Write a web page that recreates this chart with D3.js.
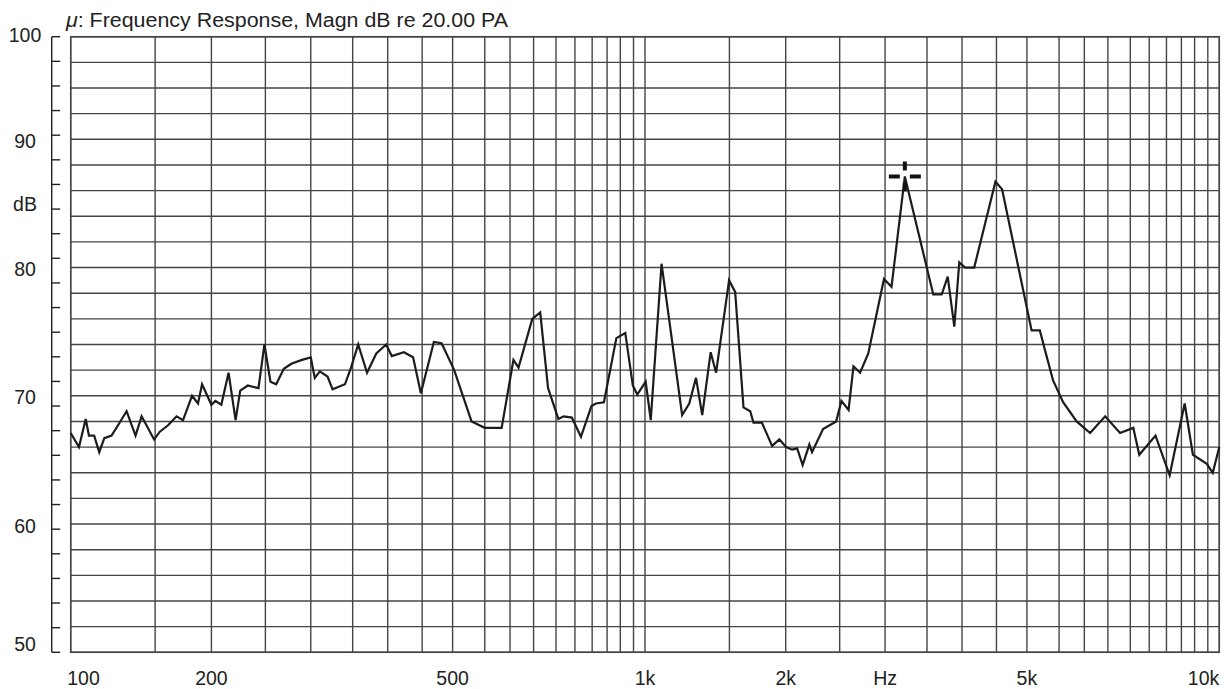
<!DOCTYPE html>
<html>
<head>
<meta charset="utf-8">
<script src="https://cdn.jsdelivr.net/npm/d3@7"></script>
<style>
  html, body { margin: 0; padding: 0; background: #fff; }
  svg { display: block; font-family: "Liberation Sans", Arial, Helvetica, sans-serif; }
</style>
</head>
<body>
<svg id="chart" width="1231" height="689"></svg>
<script>
// ---------------- data ----------------
const titleText = "Frequency Response, Magn dB re 20.00 PA";
const titleSymbol = "\u03BC";

const freqHz = [100,104.9,108.9,110.8,113.9,116.9,119.9,124.2,128.5,133.1,
  138.4,142,149.4,154.2,161.5,169,174.8,182.8,188.1,191.7,
  200,203.7,209.2,215.9,222.4,226.7,233.7,243.6,249.1,255.6,
  261.9,270.3,278.6,290.3,300,304.8,310.8,320,326,340.8,
  348,357.9,370.5,383.7,397.8,405.9,423.5,436.8,448.1,469.2,
  481.9,502.5,529.4,550,583.4,607.2,618,647.2,664.8,682.3,
  706.2,720.4,741.9,767.4,797.9,812.8,839.4,885.1,918.8,947.4,
  966.4,1004,1034,1098,1220,1262,1302,1339,1389,1421,
  1498,1551,1625,1685,1714,1789,1879,1944,2004,2059,
  2106,2157,2219,2244,2346,2467,2519,2598,2652,2725,
  2815,2988,3077,3236,3590,3710,3796,3890,3961,4044,
  4177,4485,4592,5073,5201,5279,5407,5580,5848,6122,
  6442,6772,7079,7237,7682,8107,8624,8936,9461,9716,10000];

const magnDb = [67.1,66.0,68.2,66.9,66.9,65.6,66.7,66.9,67.8,68.8,
  66.9,68.4,66.6,67.2,67.7,68.4,68.1,70.0,69.4,70.9,
  69.3,69.6,69.3,71.8,68.1,70.4,70.8,70.6,74.0,71.1,
  70.9,72.1,72.5,72.8,73.0,71.4,71.9,71.5,70.5,70.9,
  72.2,74.0,71.8,73.3,74.0,73.1,73.4,73.0,70.2,74.2,
  74.1,72.0,68.0,67.5,67.5,72.8,72.2,76.0,76.5,70.6,
  68.2,68.4,68.3,66.8,69.2,69.4,69.5,74.5,74.9,70.8,
  70.1,71.1,68.1,80.3,68.5,69.4,71.4,68.5,73.4,71.8,
  79.0,78.1,69.1,68.8,67.9,67.9,66.1,66.6,66.0,65.8,
  65.9,64.6,66.2,65.6,67.4,68.0,69.6,68.9,72.3,71.8,
  73.3,79.1,78.5,87.1,77.9,77.9,79.3,75.4,80.4,80.0,
  80.0,86.7,86.1,75.1,75.1,73.6,71.2,69.5,68.0,67.1,
  68.4,67.1,67.5,65.4,66.9,63.8,69.4,65.4,64.7,64.0,66.0];

const xTickValues = [100, 200, 500, 1000, 2000, 3000, 5000, 10000];
const xTickLabels = ["100", "200", "500", "1k", "2k", "Hz", "5k", "10k"];
const yTickValues = [100, 90, 80, 70, 60, 50];
const yTickLabels = ["100", "90", "80", "70", "60", "50"];
const yUnitValue = 85;
const yUnitLabel = "dB";

// ---------------- layout ----------------
const W = 1231, H = 689;
const plot = { left: 70.7, right: 1219.3, top: 36.7, bottom: 652.3 };
// relative position of the grid lines (1, 1.5, 2, ... 10) within one decade of this chart's warped frequency axis
const DECADE_FRAC = [0, .147, .245, .339, .418, .491, .552, .612, .665, .721, .765, .806, .845, .878, .908, .934, .957, .980, 1];

const decadeW = (plot.right - plot.left) / 2;
const gridFreqs = [];
const gridPos = [];
[100, 1000].forEach((base, d) => {
  DECADE_FRAC.forEach((fr, i) => {
    if (d === 1 && i === 0) return;
    gridFreqs.push(base * (1 + 0.5 * i));
    gridPos.push(plot.left + (d + fr) * decadeW);
  });
});

const x = d3.scaleLinear().domain(gridFreqs).range(gridPos);
const y = d3.scaleLinear().domain([50, 98]).range([plot.bottom, plot.top]).clamp(true);
const yAxisScale = d3.scaleLinear().domain([50, 100]).range([plot.bottom, plot.top]);

const svg = d3.select("#chart");
svg.append("rect").attr("width", W).attr("height", H).attr("fill", "#fff");

const gridColor = "#454545";

// horizontal grid (every 2 dB)
svg.append("g").selectAll("line")
  .data(d3.range(50, 98.01, 2))
  .join("line")
  .attr("x1", plot.left).attr("x2", plot.right)
  .attr("y1", d => y(d)).attr("y2", d => y(d))
  .attr("stroke", gridColor).attr("stroke-width", 1.4);

// vertical grid
svg.append("g").selectAll("line")
  .data(gridFreqs)
  .join("line")
  .attr("x1", d => x(d)).attr("x2", d => x(d))
  .attr("y1", plot.top).attr("y2", plot.bottom)
  .attr("stroke", gridColor).attr("stroke-width", 1.4);

// frame
svg.append("rect")
  .attr("x", plot.left).attr("y", plot.top)
  .attr("width", plot.right - plot.left).attr("height", plot.bottom - plot.top)
  .attr("fill", "none").attr("stroke", gridColor).attr("stroke-width", 1.5);

// left axis with ticks
const axisX = 51.7;
const ay = svg.append("g");
ay.append("line")
  .attr("x1", axisX).attr("x2", axisX)
  .attr("y1", yAxisScale(100)).attr("y2", yAxisScale(50))
  .attr("stroke", "#222").attr("stroke-width", 1.4);
ay.selectAll("line.t")
  .data(d3.range(50, 100.01, 2))
  .join("line").attr("class", "t")
  .attr("x1", axisX).attr("x2", axisX + 8.5)
  .attr("y1", d => yAxisScale(d)).attr("y2", d => yAxisScale(d))
  .attr("stroke", "#222").attr("stroke-width", 1.4);

// y labels
const yLabelShift = { "100": -2, "50": -8 };
svg.append("g").selectAll("text")
  .data(yTickValues.map((v, i) => ({ v, t: yTickLabels[i] })))
  .join("text")
  .attr("x", 25)
  .attr("y", d => y(d.v) + (yLabelShift[d.t] !== undefined ? yLabelShift[d.t] : 1.5))
  .attr("text-anchor", "middle")
  .attr("dominant-baseline", "central")
  .attr("font-size", 19.5)
  .attr("fill", "#222")
  .text(d => d.t);
svg.append("text")
  .attr("x", 25).attr("y", y(yUnitValue) + 1)
  .attr("text-anchor", "middle").attr("dominant-baseline", "central")
  .attr("font-size", 19.5).attr("fill", "#222")
  .text(yUnitLabel);

// x labels
svg.append("g").selectAll("text")
  .data(xTickValues.map((v, i) => ({ v, t: xTickLabels[i], i })))
  .join("text")
  .attr("x", d => d.i === 0 ? x(d.v) - 3.5 : x(d.v))
  .attr("y", 685)
  .attr("text-anchor", d => d.i === 0 ? "start" : (d.i === xTickValues.length - 1 ? "end" : "middle"))
  .attr("font-size", 19.5)
  .attr("fill", "#222")
  .text(d => d.t);

// title
const title = svg.append("text")
  .attr("x", 66).attr("y", 27)
  .attr("font-size", 20.5).attr("fill", "#222")
  .attr("textLength", 442).attr("lengthAdjust", "spacingAndGlyphs");
title.append("tspan").attr("font-style", "italic").text(titleSymbol);
title.append("tspan").text(": " + titleText);

// curve
const series = freqHz.map((f, i) => ({ f, v: magnDb[i] }));
const line = d3.line().x(d => x(d.f)).y(d => y(d.v));
svg.append("path")
  .datum(series)
  .attr("d", line)
  .attr("fill", "none")
  .attr("stroke", "#1c1c1c")
  .attr("stroke-width", 2.2)
  .attr("stroke-linejoin", "miter");

// cursor at the maximum
const peak = d3.greatest(series, d => d.v);
const cx = x(peak.f), cy = y(peak.v);
const cur = svg.append("g").attr("stroke", "#111").attr("stroke-width", 4);
cur.append("line").attr("x1", cx - 16).attr("x2", cx - 5).attr("y1", cy).attr("y2", cy);
cur.append("line").attr("x1", cx + 5).attr("x2", cx + 16).attr("y1", cy).attr("y2", cy);
cur.append("line").attr("x1", cx).attr("x2", cx).attr("y1", cy - 15).attr("y2", cy - 6);
cur.append("line").attr("x1", cx).attr("x2", cx).attr("y1", cy + 6).attr("y2", cy + 15);
</script>
</body>
</html>
